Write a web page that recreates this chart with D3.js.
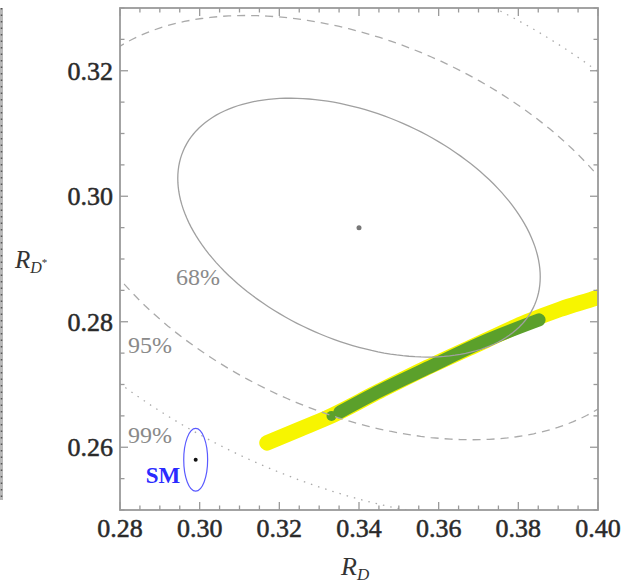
<!DOCTYPE html>
<html>
<head>
<meta charset="utf-8">
<script src="https://cdn.jsdelivr.net/npm/d3@7"></script>
<style>
  body { margin: 0; background: #fff; }
  svg { display: block; }
  text { font-family: "Liberation Serif", "DejaVu Serif", serif; }
</style>
</head>
<body>
<svg id="chart"></svg>
<script>
// --- data
var xTicks = [0.28, 0.30, 0.32, 0.34, 0.36, 0.38, 0.40];
var yTicks = [0.26, 0.28, 0.30, 0.32];

// world average fit (R_D, R_D*) with errors and correlation
var fitCenter = [0.340, 0.295];
var fitSigma = [0.030, 0.0136];
var fitRho = -0.38;
var contourLabels = ["68%", "95%", "99%"];
var contourDchi2 = [2.30, 6.18, 11.83];

// SM prediction
var smCenter = [0.299, 0.258];
var smSigma = [0.003, 0.005];

// model scan bands (centre lines)
var yellowX = [0.3169, 0.3252, 0.3320, 0.3453, 0.3571, 0.3704, 0.3822, 0.3905, 0.4000, 0.4040];
var yellowY = [0.2607, 0.2629, 0.2647, 0.2690, 0.2727, 0.2766, 0.2800, 0.2820, 0.2839, 0.2848];
var greenX = [0.3352, 0.3453, 0.3571, 0.3704, 0.3852];
var greenY = [0.2656, 0.2690, 0.2726, 0.2766, 0.2803];
var greenBlob = [0.3331, 0.2650];

var width = 625;
var height = 586;
var padLeft = 120, padRight = 598, padTop = 8, padBottom = 510;

var svg = d3.select("#chart")
    .attr("width", width)
    .attr("height", height);

var xScale = d3.scaleLinear().domain([0.28, 0.40]).range([padLeft, padRight]);
var yScale = d3.scaleLinear().domain([0.25, 0.33]).range([padBottom, padTop]);

svg.append("defs").append("clipPath")
    .attr("id", "plotClip")
  .append("rect")
    .attr("x", padLeft)
    .attr("y", padTop)
    .attr("width", padRight - padLeft)
    .attr("height", padBottom - padTop);

// leftover edge of the neighbouring panel
svg.append("rect")
    .attr("x", 0).attr("y", 8)
    .attr("width", 3).attr("height", 492)
    .attr("fill", "#b8b8b8");
svg.append("line")
    .attr("x1", 1.5).attr("x2", 1.5)
    .attr("y1", 8).attr("y2", 500)
    .attr("stroke", "#555")
    .attr("stroke-width", 1.5)
    .attr("stroke-dasharray", "1.5,5");

var plot = svg.append("g").attr("clip-path", "url(#plotClip)");

// bands
var bandLine = d3.line()
    .x(d => xScale(d[0]))
    .y(d => yScale(d[1]))
    .curve(d3.curveMonotoneX);

plot.append("path")
    .attr("d", bandLine(d3.zip(yellowX, yellowY)))
    .attr("fill", "none")
    .attr("stroke", "#f7f500")
    .attr("stroke-width", 15.5)
    .attr("stroke-linecap", "round");

plot.append("path")
    .attr("d", bandLine(d3.zip(greenX, greenY)))
    .attr("fill", "none")
    .attr("stroke", "#5ba02b")
    .attr("stroke-width", 13)
    .attr("stroke-linecap", "round");

plot.append("circle")
    .attr("cx", xScale(greenBlob[0]))
    .attr("cy", yScale(greenBlob[1]))
    .attr("r", 5)
    .attr("fill", "#5ba02b");

// fit contours
function contour(dchi2) {
  var k = Math.sqrt(dchi2);
  var s = Math.sqrt(1 - fitRho * fitRho);
  return d3.range(0, 361, 2).map(function(a){
    var t = a * Math.PI / 180;
    return [fitCenter[0] + k * fitSigma[0] * Math.cos(t),
            fitCenter[1] + k * fitSigma[1] * (fitRho * Math.cos(t) + s * Math.sin(t))];
  });
}

var ellipseLine = d3.line()
    .x(d => xScale(d[0]))
    .y(d => yScale(d[1]));

var dashes = ["none", "8,6", "1.5,6"];
var contourColors = ["#a0a0a0", "#aaaaaa", "#aaaaaa"];
contourDchi2.forEach(function(v, i){
  plot.append("path")
      .attr("d", ellipseLine(contour(v)))
      .attr("fill", "none")
      .attr("stroke", contourColors[i])
      .attr("stroke-width", 1.3)
      .attr("stroke-dasharray", dashes[i]);
});

plot.append("circle")
    .attr("cx", xScale(fitCenter[0]))
    .attr("cy", yScale(fitCenter[1]))
    .attr("r", 2.5)
    .attr("fill", "#777");

// SM
plot.append("ellipse")
    .attr("cx", xScale(smCenter[0]))
    .attr("cy", yScale(smCenter[1]))
    .attr("rx", xScale(smCenter[0] + smSigma[0]) - xScale(smCenter[0]))
    .attr("ry", yScale(smCenter[1]) - yScale(smCenter[1] + smSigma[1]))
    .attr("fill", "none")
    .attr("stroke", "#5a5aff")
    .attr("stroke-width", 1.2);

plot.append("circle")
    .attr("cx", xScale(smCenter[0]))
    .attr("cy", yScale(smCenter[1]))
    .attr("r", 2)
    .attr("fill", "#111");

// contour labels
var labelPos = [[0.2996, 0.2859, "middle"], [0.2820, 0.2750, "start"], [0.2820, 0.2607, "start"]];
contourLabels.forEach(function(lab, i){
  svg.append("text")
      .attr("x", xScale(labelPos[i][0]))
      .attr("y", yScale(labelPos[i][1]))
      .attr("text-anchor", labelPos[i][2])
      .style("font-size", "24px")
      .attr("fill", "#8a8a8a")
      .text(lab);
});

svg.append("text")
    .attr("x", xScale(0.2908))
    .attr("y", yScale(0.2543))
    .attr("text-anchor", "middle")
    .style("font-size", "23px")
    .style("font-weight", "bold")
    .attr("fill", "#2b2bff")
    .text("SM");

// axes with inward ticks on all four sides
var minorX = d3.range(0.28, 0.4001, 0.005);
var minorY = d3.range(0.25, 0.3301, 0.005);
function isMajor(v) { return Math.abs(v * 50 - Math.round(v * 50)) < 1e-6; }

var axisG = svg.append("g").attr("stroke", "#9a9a9a").attr("stroke-width", 1.3);
minorX.forEach(function(v){
  var len = isMajor(v) ? 8 : 4.5;
  axisG.append("line").attr("x1", xScale(v)).attr("x2", xScale(v))
      .attr("y1", padBottom).attr("y2", padBottom - len);
  axisG.append("line").attr("x1", xScale(v)).attr("x2", xScale(v))
      .attr("y1", padTop).attr("y2", padTop + len);
});
minorY.forEach(function(v){
  var len = isMajor(v) ? 8 : 4.5;
  axisG.append("line").attr("x1", padLeft).attr("x2", padLeft + len)
      .attr("y1", yScale(v)).attr("y2", yScale(v));
  axisG.append("line").attr("x1", padRight).attr("x2", padRight - len)
      .attr("y1", yScale(v)).attr("y2", yScale(v));
});

svg.append("rect")
    .attr("x", padLeft).attr("y", padTop)
    .attr("width", padRight - padLeft).attr("height", padBottom - padTop)
    .attr("fill", "none")
    .attr("stroke", "#9a9a9a")
    .attr("stroke-width", 1.8);

svg.selectAll(".xlab")
  .data(xTicks)
  .enter()
  .append("text")
    .attr("x", d => xScale(d))
    .attr("y", 537)
    .attr("text-anchor", "middle")
    .style("font-size", "26px")
    .attr("fill", "#2a2a2a")
    .attr("stroke", "#2a2a2a")
    .attr("stroke-width", 0.5)
    .text(d => d3.format(".2f")(d));

svg.selectAll(".ylab")
  .data(yTicks)
  .enter()
  .append("text")
    .attr("x", padLeft - 7)
    .attr("y", d => yScale(d) + 9)
    .attr("text-anchor", "end")
    .style("font-size", "26px")
    .attr("fill", "#2a2a2a")
    .attr("stroke", "#2a2a2a")
    .attr("stroke-width", 0.5)
    .text(d => d3.format(".2f")(d));

// axis titles
var xt = svg.append("text")
    .attr("x", 341)
    .attr("y", 575)
    .style("font-size", "26px")
    .style("font-style", "italic")
    .attr("fill", "#333");
xt.append("tspan").text("R");
xt.append("tspan").attr("dy", 5).style("font-size", "17px").text("D");

var yt = svg.append("text")
    .attr("x", 15)
    .attr("y", 268)
    .style("font-size", "25px")
    .style("font-style", "italic")
    .attr("fill", "#333");
yt.append("tspan").text("R");
yt.append("tspan").attr("dy", 5).style("font-size", "16px").text("D");
yt.append("tspan").attr("dy", -7).style("font-size", "11px").style("font-style", "normal").text("*");
</script>
</body>
</html>
